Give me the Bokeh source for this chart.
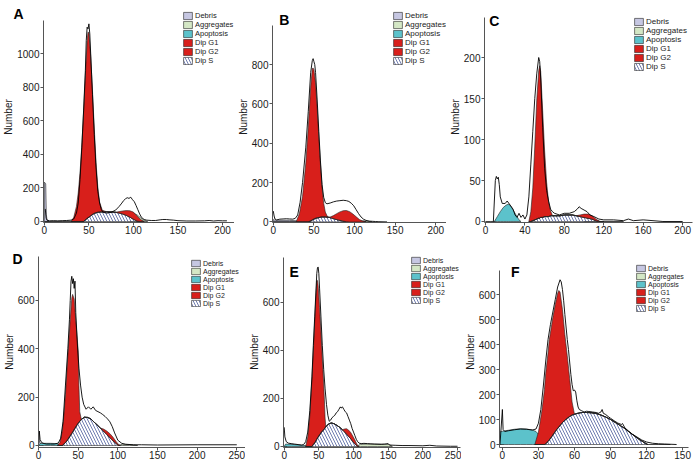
import numpy as np
from bokeh.plotting import figure
from bokeh.models import Range1d, FixedTicker, Legend, LegendItem, Label, Title
from bokeh.layouts import row, column
from bokeh.embed import file_html
from bokeh.resources import INLINE

LEGEND_NAMES = ["Debris", "Aggregates", "Apoptosis", "Dip G1", "Dip G2", "Dip S"]

# ---------------- Panel A ----------------
a_line_x = [1, 2, 3, 6, 10, 15, 20, 25, 30, 33, 36, 38, 40, 42, 44, 46, 47, 48, 49, 50, 51, 52, 53, 54, 56, 58, 60, 62, 64, 66,
            70, 75, 80, 84, 87, 89, 91, 93, 95, 97, 99, 101, 103, 105, 107, 109, 112, 115, 120, 125, 130, 133, 137, 140, 145, 150,
            160, 170, 180, 185, 190, 195, 200, 205]
a_line_y = [75, 20, 8, 4, 5, 4, 5, 6, 8, 15, 50, 110, 250, 440, 660, 900, 1080, 1160, 1150, 1180, 1120, 1000, 880, 760, 520, 320,
            180, 110, 70, 55, 50, 55, 68, 90, 110, 125, 135, 142, 138, 145, 130, 118, 95, 70, 45, 25, 12, 8, 6, 6, 10, 12, 12, 10,
            8, 5, 3, 3, 4, 6, 3, 5, 4, 4]
a_grid = [30, 33, 36, 38, 40, 42, 44, 46, 48, 49, 50, 52, 54, 56, 58, 60, 62, 65, 70, 75, 80, 84, 88, 92, 96, 100, 104, 108, 112]
a_s = [0, 0, 0, 0, 0, 0, 0, 10, 18, 22, 26, 34, 42, 48, 52, 55, 56, 57, 58, 57, 55, 51, 45, 37, 26, 14, 3, 0, 0]
a_g1 = [0, 25, 90, 170, 290, 450, 650, 860, 1060, 1110, 1100, 950, 740, 510, 300, 150, 60, 10, 0, 0, 0, 0, 0, 0, 0, 0, 0, 0, 0]
a_g2 = [0, 0, 0, 0, 0, 0, 0, 0, 0, 0, 0, 0, 0, 0, 0, 0, 0, 0, 0, 0, 0, 8, 18, 28, 38, 42, 30, 12, 0]
a_apo_x = [0, 20, 40]
a_apo_y = [0, 0, 0]
a_deb_x = [0, 1.5, 2.2, 3, 5]
a_deb_y = [235, 225, 40, 8, 0]
a_agg_x = [96, 100, 104, 108, 112, 116]
a_agg_y = [0, 50, 40, 22, 8, 0]
a_xticks = [0, 50, 100, 150, 200]
a_yticks = [0, 200, 400, 600, 800, 1000]

# ---------------- Panel B ----------------
b_line_x = [0, 1, 2, 4, 8, 12, 16, 20, 24, 27, 30, 33, 36, 40, 43, 46, 48, 49, 50, 51, 52, 54, 56, 58, 60, 62, 64, 66, 70, 74,
            78, 82, 86, 90, 93, 96, 99, 102, 105, 108, 111, 114, 118, 122, 126, 130, 140]
b_line_y = [55, 30, 15, 10, 14, 15, 16, 15, 14, 18, 35, 100, 200, 380, 560, 760, 820, 830, 815, 800, 760, 620, 460, 310, 190, 125,
            98, 92, 96, 102, 106, 108, 110, 108, 104, 95, 82, 62, 42, 25, 14, 8, 4, 3, 2, 1, 0]
b_grid = [28, 32, 36, 40, 43, 46, 48, 49, 50, 52, 54, 56, 58, 60, 62, 64, 67, 70, 74, 78, 82, 86, 90, 94, 98, 102, 106, 110, 114]
b_s = [0, 0, 0, 0, 0, 5, 10, 12, 14, 18, 20, 22, 24, 25, 25, 25, 24, 22, 17, 12, 8, 4, 1, 0, 0, 0, 0, 0, 0]
b_g1 = [0, 40, 130, 300, 480, 680, 770, 770, 760, 690, 560, 410, 270, 150, 70, 25, 0, 0, 0, 0, 0, 0, 0, 0, 0, 0, 0, 0, 0]
b_g2 = [0, 0, 0, 0, 0, 0, 0, 0, 0, 0, 0, 0, 0, 0, 0, 0, 0, 3, 15, 30, 43, 53, 57, 52, 40, 26, 12, 4, 0]
b_apo_x = [0, 20, 40]
b_apo_y = [0, 0, 0]
b_deb_x = [0, 2, 6, 12, 20, 28, 33]
b_deb_y = [12, 9, 8, 8, 8, 6, 0]
b_agg_x = [104, 110, 116, 122]
b_agg_y = [0, 6, 4, 0]
b_xticks = [0, 50, 100, 150, 200]
b_yticks = [0, 200, 400, 600, 800]

# ---------------- Panel C ----------------
c_line_x = [8, 10, 11, 12, 13, 14, 15, 17, 20, 22, 25, 28, 30, 32, 34, 36, 38, 40, 42, 44, 46, 48, 50, 52, 54, 55, 56, 58, 60, 62,
            64, 66, 68, 70, 75, 80, 85, 90, 93, 95, 97, 100, 103, 106, 110, 115, 120, 130, 140, 145, 150, 160, 180, 200]
c_line_y = [0, 50, 55, 52, 54, 45, 30, 22, 22, 25, 20, 15, 8, 5, 10, 5, 8, 3, 8, 30, 70, 110, 150, 180, 200, 195, 175, 115, 65, 38,
            25, 15, 12, 10, 8, 10, 10, 12, 15, 18, 16, 14, 12, 8, 6, 3, 2, 2, 1, 3, 1, 2, 0, 0]
c_grid = [44, 46, 48, 50, 52, 54, 55, 56, 58, 60, 62, 64, 66, 68, 72, 76, 80, 84, 88, 92, 96, 100, 104, 108, 112, 116, 120]
c_s = [0, 0, 1, 2, 3, 4, 4, 5, 5, 6, 6, 6, 7, 7, 7, 7, 8, 8, 8, 7, 6, 5, 4, 3, 1, 0, 0]
c_g1 = [0, 12, 40, 90, 145, 180, 186, 178, 130, 80, 42, 18, 6, 0, 0, 0, 0, 0, 0, 0, 0, 0, 0, 0, 0, 0, 0]
c_g2 = [0, 0, 0, 0, 0, 0, 0, 0, 0, 0, 0, 0, 0, 0, 0, 0, 0, 0, 0, 0, 2, 4, 5, 4, 2, 0, 0]
c_apo_x = [9, 12, 15, 18, 21, 23, 25, 28, 31, 34, 36]
c_apo_y = [0, 6, 12, 17, 20, 21, 20, 14, 8, 2, 0]
c_deb_x = [0, 5, 10]
c_deb_y = [0, 0, 0]
c_agg_x = [100, 120, 140]
c_agg_y = [0, 0, 0]
c_xticks = [0, 40, 80, 120, 160, 200]
c_yticks = [0, 50, 100, 150, 200]

# ---------------- Panel D ----------------
d_line_x = [0, 1, 2, 4, 7, 10, 15, 20, 25, 28, 31, 34, 37, 39, 40, 41, 42, 43, 44, 45, 46, 47, 49, 51, 53, 55, 57, 60, 63, 66,
            69, 72, 75, 78, 81, 84, 87, 90, 93, 96, 100, 105, 110, 120, 130, 150, 200, 250]
d_line_y = [0, 60, 25, 12, 8, 6, 6, 6, 10, 30, 100, 250, 400, 520, 600, 680, 700, 670, 690, 650, 680, 550, 420, 320, 250, 200,
            170, 150, 160, 150, 160, 145, 140, 135, 128, 120, 110, 98, 78, 52, 22, 9, 5, 3, 3, 2, 3, 3]
d_grid = [24, 27, 30, 32, 34, 36, 38, 40, 42, 43, 45, 47, 49, 50, 51, 52, 54, 58, 62, 66, 70, 74, 78, 82, 86, 90, 94, 98, 101, 103]
d_s = [0, 0, 0, 6, 12, 20, 30, 40, 50, 55, 66, 77, 87, 92, 96, 100, 108, 117, 116, 110, 97, 85, 72, 60, 46, 33, 20, 8, 0, 0]
d_g1 = [0, 12, 60, 120, 200, 300, 390, 480, 560, 570, 540, 440, 350, 300, 150, 40, 0, 0, 0, 0, 0, 0, 0, 0, 0, 0, 0, 0, 0, 0]
d_g2 = [0, 0, 0, 0, 0, 0, 0, 0, 0, 0, 0, 0, 0, 0, 0, 0, 0, 0, 0, 0, 0, 0, 0, 8, 14, 16, 14, 8, 4, 0]
d_apo_x = [0, 2, 8, 15, 22, 26, 28]
d_apo_y = [0, 8, 9, 9, 8, 5, 0]
d_deb_x = [0, 1, 2, 4, 6]
d_deb_y = [55, 22, 10, 4, 0]
d_agg_x = [100, 106, 115, 125]
d_agg_y = [0, 5, 4, 0]
d_xticks = [0, 50, 100, 150, 200, 250]
d_yticks = [0, 200, 400, 600]

# ---------------- Panel E ----------------
e_line_x = [0, 1, 3, 6, 10, 15, 20, 25, 28, 31, 34, 37, 40, 42, 44, 46, 47, 48, 49, 50, 51, 53, 55, 57, 59, 61, 63, 65, 67, 69,
            71, 73, 75, 77, 79, 81, 82, 84, 86, 88, 90, 92, 94, 96, 98, 100, 102, 104, 106, 108, 111, 115, 120, 125, 130, 140,
            145, 150, 152, 160, 170, 180, 200, 210, 220, 240, 250]
e_line_y = [80, 40, 20, 14, 12, 10, 8, 6, 8, 20, 60, 150, 290, 420, 540, 660, 720, 745, 748, 720, 660, 540, 420, 320, 240, 175,
            130, 105, 110, 120, 125, 130, 140, 145, 155, 165, 160, 165, 155, 145, 140, 125, 110, 95, 75, 60, 45, 30, 20, 14,
            12, 13, 12, 11, 10, 9, 10, 12, 6, 5, 4, 4, 3, 5, 2, 1, 1]
e_grid = [31, 34, 37, 40, 42, 44, 46, 47, 48, 49, 51, 53, 55, 57, 58, 59, 60, 64, 68, 72, 76, 80, 84, 87, 90, 93, 96, 99, 102,
          104, 106, 108]
e_s = [0, 0, 0, 0, 8, 15, 25, 30, 35, 40, 48, 57, 64, 70, 74, 78, 82, 94, 98, 95, 88, 80, 70, 61, 52, 42, 32, 21, 12, 6, 0, 0]
e_g1 = [0, 40, 130, 280, 390, 505, 615, 660, 657, 630, 530, 420, 300, 190, 120, 40, 0, 0, 0, 0, 0, 0, 0, 0, 0, 0, 0, 0, 0, 0, 0, 0]
e_g2 = [0, 0, 0, 0, 0, 0, 0, 0, 0, 0, 0, 0, 0, 0, 0, 0, 0, 0, 0, 0, 0, 0, 0, 12, 22, 26, 26, 22, 15, 9, 4, 0]
e_apo_x = [0, 2, 10, 20, 30, 36, 40]
e_apo_y = [0, 10, 9, 7, 4, 2, 0]
e_deb_x = [0, 1, 2, 4]
e_deb_y = [0, 0, 0, 0]
e_agg_x = [104, 110, 120, 135, 150, 154, 156]
e_agg_y = [0, 9, 10, 10, 9, 4, 0]
e_xticks = [0, 50, 100, 150, 200, 250]
e_yticks = [0, 200, 400, 600]

# ---------------- Panel F ----------------
f_line_x = [-2, 0, 0.6, 2, 5, 10, 15, 20, 25, 28, 30, 32, 34, 36, 38, 40, 42, 44, 46, 48, 49, 50, 51, 52, 53, 54, 55, 56, 57, 58,
            59, 60, 61, 62, 63, 64, 66, 68, 70, 72, 75, 78, 80, 82, 83, 84, 86, 88, 90, 93, 96, 99, 100, 102, 105, 108, 112,
            116, 120, 125, 130, 135, 140, 145]
f_line_y = [0, 140, 60, 52, 55, 59, 62, 61, 58, 62, 85, 140, 230, 330, 420, 480, 530, 580, 630, 659, 650, 620, 575, 520, 470,
            420, 380, 330, 280, 240, 215, 218, 210, 175, 150, 140, 135, 130, 133, 132, 130, 128, 125, 130, 140, 125, 120, 112,
            105, 95, 86, 80, 84, 66, 54, 42, 30, 18, 10, 5, 3, 2, 1, 0]
f_grid = [27, 30, 33, 35, 36, 38, 39, 42, 44, 46, 47, 48, 50, 52, 54, 56, 58, 60, 62, 66, 70, 74, 78, 82, 86, 90, 94, 98, 102,
          106, 110, 114, 118, 121]
f_s = [0, 0, 0, 0, 3, 12, 18, 38, 52, 65, 70, 76, 88, 97, 105, 112, 118, 121, 124, 128, 128, 127, 124, 118, 110, 100, 88, 76,
       64, 48, 34, 20, 8, 0]
f_g1 = [0, 50, 140, 220, 280, 355, 400, 470, 508, 540, 546, 534, 452, 343, 250, 153, 52, 0, 0, 0, 0, 0, 0, 0, 0, 0, 0, 0, 0,
        0, 0, 0, 0, 0]
f_g2 = [0] * 34
f_apo_x = [-2.4, 0, 5, 10, 15, 20, 25, 28, 30, 32, 33]
f_apo_y = [50, 53, 57, 61, 63, 62, 58, 52, 40, 15, 0]
f_deb_x = [-2.4, -1, 0, 1]
f_deb_y = [0, 0, 0, 0]
f_agg_x = [120, 130, 140]
f_agg_y = [0, 0, 0]
f_xticks = [0, 30, 60, 90, 120, 150]
f_yticks = [0, 100, 200, 300, 400, 500, 600]

RED = "#d81f1b"
APO = "#5cc2cb"
DEB = "#c6c7e2"
AGG = "#d4e7c5"
HATCH = "#4a5a9c"
EDGE = "#222222"
FONT = "Liberation Sans"

# layout geometry (page pixel coordinates). Frames in one row share the same top and bottom.
panels = [
    dict(name="A", line=(a_line_x, a_line_y), grid=a_grid, s=a_s, g1=a_g1, g2=a_g2, apo=(a_apo_x, a_apo_y),
         deb=(a_deb_x, a_deb_y), agg=(a_agg_x, a_agg_y), xt=a_xticks, yt=a_yticks,
         left=0, top=0, w=234, h=237, fl=42, fr=234, ft=11, fb=222, xr=(-1, 213.5), yr=(-6, 1253.7), axis_top=20,
         letter=("title", -30, -20, "bottom"), leg=(182, 11), row=9, lfs="7.5px"),
    dict(name="B", line=(b_line_x, b_line_y), grid=b_grid, s=b_s, g1=b_g1, g2=b_g2, apo=(b_apo_x, b_apo_y),
         deb=(b_deb_x, b_deb_y), agg=(b_agg_x, b_agg_y), xt=b_xticks, yt=b_yticks,
         left=234, top=0, w=212, h=237, fl=268, fr=446, ft=11, fb=222, xr=(-1, 213.2), yr=(-3, 1069.7), axis_top=25,
         letter=("center", 280, 19), leg=(389, 11), row=9, lfs="8px"),
    dict(name="C", line=(c_line_x, c_line_y), grid=c_grid, s=c_s, g1=c_g1, g2=c_g2, apo=(c_apo_x, c_apo_y),
         deb=(c_deb_x, c_deb_y), agg=(c_agg_x, c_agg_y), xt=c_xticks, yt=c_yticks,
         left=446, top=0, w=254, h=237, fl=480, fr=692, ft=11, fb=222, xr=(-1, 210), yr=(-1.22, 256.1), axis_top=17,
         letter=("center", 490, 20), leg=(630, 17), row=9, lfs="8px"),
    dict(name="D", line=(d_line_x, d_line_y), grid=d_grid, s=d_s, g1=d_g1, g2=d_g2, apo=(d_apo_x, d_apo_y),
         deb=(d_deb_x, d_deb_y), agg=(d_agg_x, d_agg_y), xt=d_xticks, yt=d_yticks,
         left=0, top=237, w=245, h=231, fl=38, fr=245, ft=256, fb=447, xr=(0, 261), yr=(-8.3, 781.9), axis_top=256,
         letter=("title", -26, -20, "bottom"), leg=(191, 259), row=8, lfs="7px"),
    dict(name="E", line=(e_line_x, e_line_y), grid=e_grid, s=e_s, g1=e_g1, g2=e_g2, apo=(e_apo_x, e_apo_y),
         deb=(e_deb_x, e_deb_y), agg=(e_agg_x, e_agg_y), xt=e_xticks, yt=e_yticks,
         left=245, top=237, w=216, h=231, fl=279, fr=460, ft=256, fb=447, xr=(-1, 254.3), yr=(-4.2, 791.6), axis_top=257,
         letter=("center", 290, 271), leg=(407, 256), row=8, lfs="7px"),
    dict(name="F", line=(f_line_x, f_line_y), grid=f_grid, s=f_s, g1=f_g1, g2=f_g2, apo=(f_apo_x, f_apo_y),
         deb=(f_deb_x, f_deb_y), agg=(f_agg_x, f_agg_y), xt=f_xticks, yt=f_yticks,
         left=461, top=237, w=239, h=231, fl=495, fr=688, ft=256, fb=447, xr=(-2.4, 154.9), yr=(-12, 752), axis_top=270,
         letter=("center", 511, 271), leg=(632, 264), row=8, lfs="7px"),
]


def page_to_data(g, px, py):
    sx = (g["fr"] - g["fl"]) / (g["xr"][1] - g["xr"][0])
    sy = (g["fb"] - g["ft"]) / (g["yr"][1] - g["yr"][0])
    return g["xr"][0] + (px - g["fl"]) / sx, g["yr"][0] + (g["fb"] - py) / sy


def build(g):
    p = figure(width=g["w"], height=g["h"], x_range=Range1d(*g["xr"]), y_range=Range1d(*g["yr"]),
               output_backend="svg", toolbar_location=None, title=None,
               min_border_left=g["fl"] - g["left"], min_border_right=g["left"] + g["w"] - g["fr"],
               min_border_top=g["ft"] - g["top"], min_border_bottom=g["top"] + g["h"] - g["fb"])
    p.outline_line_color = None
    p.grid.visible = False
    p.background_fill_color = "white"
    p.border_fill_color = "white"
    p.xaxis.ticker = FixedTicker(ticks=g["xt"])
    p.yaxis.ticker = FixedTicker(ticks=g["yt"])
    for ax in (p.xaxis[0], p.yaxis[0]):
        ax.axis_line_color = "#555555"
        ax.major_tick_line_color = "#555555"
        ax.major_tick_out = 3
        ax.major_tick_in = 0
        ax.minor_tick_line_color = None
        ax.major_label_text_font = FONT
        ax.major_label_text_font_size = "10px"
        ax.major_label_text_color = "#1a1a1a"
    p.xaxis.major_label_standoff = 0
    p.yaxis.major_label_standoff = 1
    _, ytop = page_to_data(g, g["fl"], g["axis_top"])
    p.yaxis.bounds = (g["yr"][0], ytop)
    p.yaxis.axis_label = "Number"
    p.yaxis.axis_label_standoff = 0
    p.yaxis.axis_label_text_font = FONT
    p.yaxis.axis_label_text_font_size = "10px"
    p.yaxis.axis_label_text_font_style = "normal"
    p.yaxis.axis_label_text_color = "#1a1a1a"

    def area(x, top, bottom, **kw):
        xs = list(x) + list(x)[::-1]
        ys = list(top) + list(bottom)[::-1]
        return p.patch(xs, ys, line_color=EDGE, line_width=0.6, **kw)

    deb_x, deb_y = g["deb"]
    agg_x, agg_y = g["agg"]
    apo_x, apo_y = g["apo"]
    s = np.array(g["s"], dtype=float)
    g1 = np.array(g["g1"], dtype=float)
    g2 = np.array(g["g2"], dtype=float)
    zeros = np.zeros_like(s)

    r_deb = area(deb_x, deb_y, [0] * len(deb_x), fill_color=DEB)
    r_agg = area(agg_x, agg_y, [0] * len(agg_x), fill_color=AGG)
    r_apo = area(apo_x, apo_y, [0] * len(apo_x), fill_color=APO)
    r_s = area(g["grid"], s, zeros, fill_color="white", hatch_pattern="\\", hatch_color=HATCH,
               hatch_scale=6, hatch_weight=0.8)
    r_g1 = area(g["grid"], s + g1, s, fill_color=RED)
    r_g2 = area(g["grid"], s + g2, s, fill_color=RED)
    lx, ly = g["line"]
    p.line(lx, ly, line_color="black", line_width=0.9)

    rends = [r_deb, r_agg, r_apo, r_g1, r_g2, r_s]
    row_h = g["row"]
    leg_h = 6 * row_h
    bx, top = g["leg"]
    legend = Legend(items=[LegendItem(label=n, renderers=[r]) for n, r in zip(LEGEND_NAMES, rends)],
                    location=(bx - 1 - g["fl"], g["fb"] - top - leg_h),
                    padding=0, margin=0, spacing=0, glyph_width=11, glyph_height=row_h, label_height=row_h,
                    label_standoff=2, label_text_font=FONT, label_text_font_size=g["lfs"],
                    label_text_color="#222222", background_fill_alpha=0, border_line_color=None)
    p.add_layout(legend)

    spec = g["letter"]
    if spec[0] == "title":
        _, off, so, va = spec
        p.add_layout(Title(text=g["name"], align="left", vertical_align=va, offset=off, standoff=so,
                           text_font=FONT, text_font_size="14px", text_font_style="bold", text_color="black"),
                     "above")
    else:
        _, px, py = spec
        tx, ty = page_to_data(g, px, py)
        p.add_layout(Label(x=tx, y=ty, text=g["name"], text_font=FONT, text_font_style="bold",
                           text_font_size="14px", text_align="center", text_baseline="middle", text_color="black"))
    return p


figs = [build(g) for g in panels]
layout = column(row(*figs[:3]), row(*figs[3:]))
open("out.html", "w").write(file_html(layout, INLINE))
